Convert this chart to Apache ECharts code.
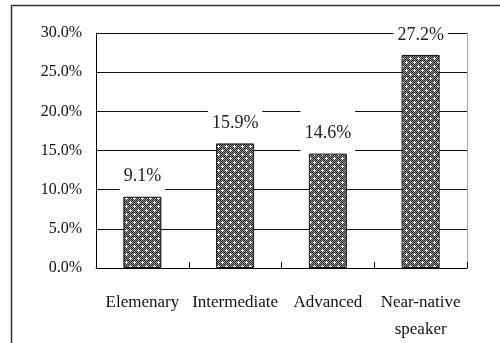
<!DOCTYPE html>
<html>
<head>
<meta charset="utf-8">
<script src="https://cdn.jsdelivr.net/npm/echarts@6/dist/echarts.min.js"></script>
<style>
  html, body { margin: 0; padding: 0; background: #fff; }
  #chart { width: 500px; height: 343px; }
</style>
</head>
<body>
<div id="chart"></div>
<script>
var categories = ['Elemenary', 'Intermediate', 'Advanced', 'Near-native\nspeaker'];
var values = [9.1, 15.9, 14.6, 27.2];
var yTicks = [0, 5, 10, 15, 20, 25, 30];

// dotted checker fill like the old office pattern
function makePattern() {
  var c = document.createElement('canvas');
  c.width = 8;
  c.height = 8;
  var ctx = c.getContext('2d');
  for (var y = 0; y < 8; y++) {
    for (var x = 0; x < 8; x++) {
      ctx.fillStyle = (x + y) % 2 === 0 ? '#2e2e2e' : '#8e8e8e';
      ctx.fillRect(x, y, 1, 1);
    }
  }
  ctx.fillStyle = '#ffffff';
  [[2, 2], [6, 6]].forEach(function (p) {
    ctx.fillRect(p[0], p[1], 1, 1);
    ctx.fillRect(p[0] - 1, p[1], 1, 1);
    ctx.fillRect(p[0] + 1, p[1], 1, 1);
    ctx.fillRect(p[0], p[1] - 1, 1, 1);
    ctx.fillRect(p[0], p[1] + 1, 1, 1);
  });
  return c;
}

var font = '"Liberation Serif", "DejaVu Serif", serif';
var myChart = echarts.init(document.getElementById('chart'));

var option = {
  backgroundColor: '#fff',
  animation: false,
  graphic: [{
    type: 'rect',
    shape: { x: 11.5, y: 5.5, width: 700, height: 700 },
    style: { fill: 'none', stroke: '#333', lineWidth: 1.5 },
    silent: true
  }],
  grid: {
    left: 96,
    right: 33,
    top: 33,
    bottom: 72,
    containLabel: false
  },
  xAxis: {
    type: 'category',
    data: categories,
    axisLine: { show: true, lineStyle: { color: '#000', width: 1 } },
    axisTick: { show: true, inside: true, length: 6, lineStyle: { color: '#000' } },
    axisLabel: {
      color: '#111',
      fontFamily: font,
      fontSize: 17,
      lineHeight: 27,
      margin: 21,
      interval: 0
    }
  },
  yAxis: [{
    type: 'value',
    min: yTicks[0],
    max: yTicks[yTicks.length - 1],
    interval: 5,
    axisLine: { show: true, lineStyle: { color: '#000', width: 1 } },
    axisTick: { show: false },
    splitLine: { show: true, lineStyle: { color: '#111', width: 1 } },
    axisLabel: {
      color: '#111',
      fontFamily: font,
      fontSize: 16,
      margin: 14,
      formatter: function (v) { return v.toFixed(1) + '%'; }
    }
  }, {
    type: 'value',
    position: 'right',
    min: yTicks[0],
    max: yTicks[yTicks.length - 1],
    interval: 5,
    axisLine: { show: true, lineStyle: { color: '#aaa', width: 1 } },
    axisTick: { show: false },
    axisLabel: { show: false },
    splitLine: { show: false }
  }],
  series: [{
    type: 'bar',
    data: values,
    barWidth: '41%',
    itemStyle: {
      color: { image: makePattern(), repeat: 'repeat' },
      borderColor: '#111',
      borderWidth: 1
    },
    label: {
      show: true,
      position: 'top',
      distance: 2,
      color: '#222',
      fontFamily: font,
      fontSize: 18,
      lineHeight: 20,
      backgroundColor: '#fff',
      padding: [15, 4, 8, 4],
      formatter: function (p) { return p.value.toFixed(1) + '%'; }
    }
  }]
};

myChart.setOption(option);
</script>
</body>
</html>
